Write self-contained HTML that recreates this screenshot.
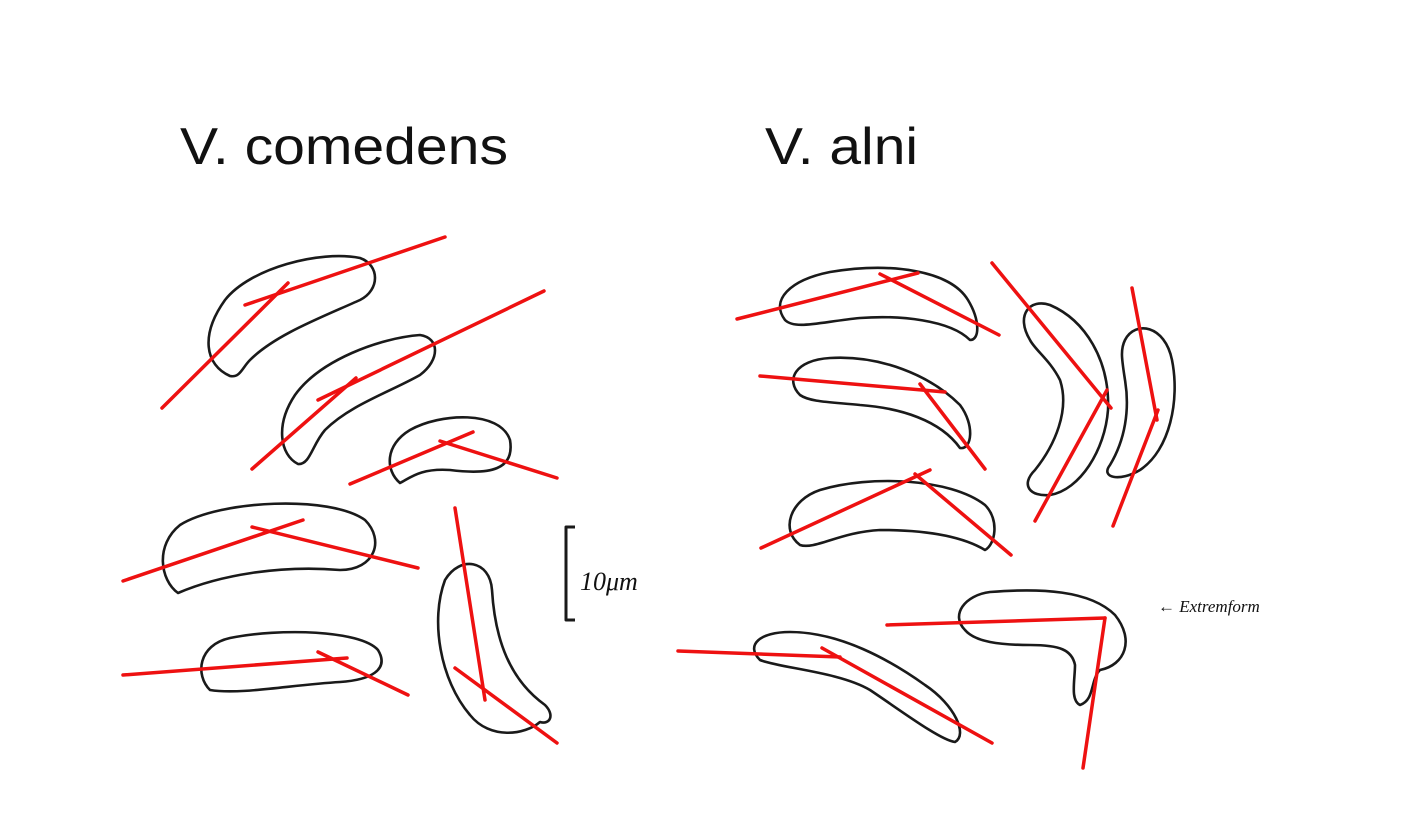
<!DOCTYPE html>
<html><head><meta charset="utf-8"><style>
html,body{margin:0;padding:0;background:#fff;}
svg{display:block;}
</style></head><body>
<svg width="1401" height="834" viewBox="0 0 1401 834" xmlns="http://www.w3.org/2000/svg">
<rect width="1401" height="834" fill="#fff"/>
<text x="180" y="164" font-family="Liberation Sans, sans-serif" font-size="52" fill="#111" textLength="328" lengthAdjust="spacingAndGlyphs">V. comedens</text>
<text x="765" y="164" font-family="Liberation Sans, sans-serif" font-size="52" fill="#111" textLength="153" lengthAdjust="spacingAndGlyphs">V. alni</text>
<g fill="none" stroke="#1a1a1a" stroke-width="2.6" stroke-linejoin="round">
<path d="M230,376 C205,365 200,335 225,300 C250,268 320,250 360,258 C380,265 380,290 360,300 C320,318 275,335 250,360 C242,368 240,378 230,376Z"/>
<path d="M298,464 C280,455 275,425 295,395 C320,360 380,338 420,335 C440,338 440,360 420,375 C390,392 350,405 325,430 C312,445 310,465 298,464Z"/>
<path d="M400,483 C385,470 385,445 410,430 C440,413 500,410 510,440 C515,470 490,475 450,470 C420,468 410,478 400,483Z"/>
<path d="M178,593 C160,580 155,545 180,525 C220,500 330,495 365,520 C385,540 375,570 340,570 C280,565 220,575 178,593Z"/>
<path d="M210,690 C195,675 198,645 230,638 C280,628 360,630 378,650 C390,670 370,680 340,682 C290,685 240,695 210,690Z"/>
<path d="M445,580 C460,555 490,560 492,590 C495,640 510,680 545,705 C555,715 550,725 540,722 C525,735 490,740 470,715 C440,680 430,620 445,580Z"/>
<path d="M785,320 C770,300 790,280 830,272 C890,262 950,270 968,300 C980,320 980,340 970,340 C950,320 900,315 860,318 C820,322 795,330 785,320Z"/>
<path d="M800,395 C785,380 795,360 830,358 C880,355 930,375 960,405 C975,425 972,450 960,448 C940,420 900,408 860,405 C830,402 810,402 800,395Z"/>
<path d="M800,545 C780,530 790,500 820,490 C870,475 950,478 985,505 C1000,520 995,545 985,550 C960,535 920,530 880,530 C840,532 815,550 800,545Z"/>
<path d="M1030,340 C1015,315 1030,298 1050,305 C1085,320 1110,360 1108,410 C1105,450 1080,490 1050,495 C1030,497 1020,485 1035,470 C1055,445 1070,410 1060,380 C1050,360 1035,350 1030,340Z"/>
<path d="M1125,340 C1135,320 1165,325 1172,360 C1180,400 1170,450 1140,470 C1120,482 1100,478 1110,465 C1125,440 1130,410 1125,380 C1122,360 1120,350 1125,340Z"/>
<path d="M760,660 C745,645 760,632 790,632 C840,632 890,660 925,685 C955,705 968,735 955,742 C940,740 900,710 870,690 C840,672 780,668 760,660Z"/>
<path d="M965,630 C950,615 965,595 990,592 C1040,588 1090,590 1115,615 C1135,640 1125,665 1100,670 C1090,680 1095,700 1080,705 C1070,700 1075,680 1075,665 C1072,650 1060,645 1030,645 C1000,645 975,642 965,630Z"/>
<path d="M575,527 L566,527 L566,620 L575,620" stroke-width="3"/>
</g>
<text x="580" y="590" font-family="Liberation Serif, serif" font-style="italic" font-size="26" fill="#111">10μm</text>
<text x="1158" y="612" font-family="Liberation Serif, serif" font-style="italic" font-size="17" fill="#111">← Extremform</text>
<g stroke="#ee1111" stroke-width="3.5" stroke-linecap="round">
<line x1="245" y1="305" x2="445" y2="237"/>
<line x1="162" y1="408" x2="288" y2="283"/>
<line x1="318" y1="400" x2="544" y2="291"/>
<line x1="252" y1="469" x2="356" y2="378"/>
<line x1="350" y1="484" x2="473" y2="432"/>
<line x1="440" y1="441" x2="557" y2="478"/>
<line x1="123" y1="581" x2="303" y2="520"/>
<line x1="252" y1="527" x2="418" y2="568"/>
<line x1="123" y1="675" x2="347" y2="658"/>
<line x1="318" y1="652" x2="408" y2="695"/>
<line x1="455" y1="508" x2="485" y2="700"/>
<line x1="455" y1="668" x2="557" y2="743"/>
<line x1="737" y1="319" x2="918" y2="273"/>
<line x1="880" y1="274" x2="999" y2="335"/>
<line x1="760" y1="376" x2="945" y2="392"/>
<line x1="920" y1="384" x2="985" y2="469"/>
<line x1="761" y1="548" x2="930" y2="470"/>
<line x1="915" y1="474" x2="1011" y2="555"/>
<line x1="992" y1="263" x2="1111" y2="408"/>
<line x1="1035" y1="521" x2="1107" y2="390"/>
<line x1="1132" y1="288" x2="1157" y2="420"/>
<line x1="1113" y1="526" x2="1158" y2="410"/>
<line x1="887" y1="625" x2="1105" y2="618"/>
<line x1="1105" y1="618" x2="1083" y2="768"/>
<line x1="678" y1="651" x2="840" y2="657"/>
<line x1="822" y1="648" x2="992" y2="743"/>
</g>
</svg>
</body></html>
